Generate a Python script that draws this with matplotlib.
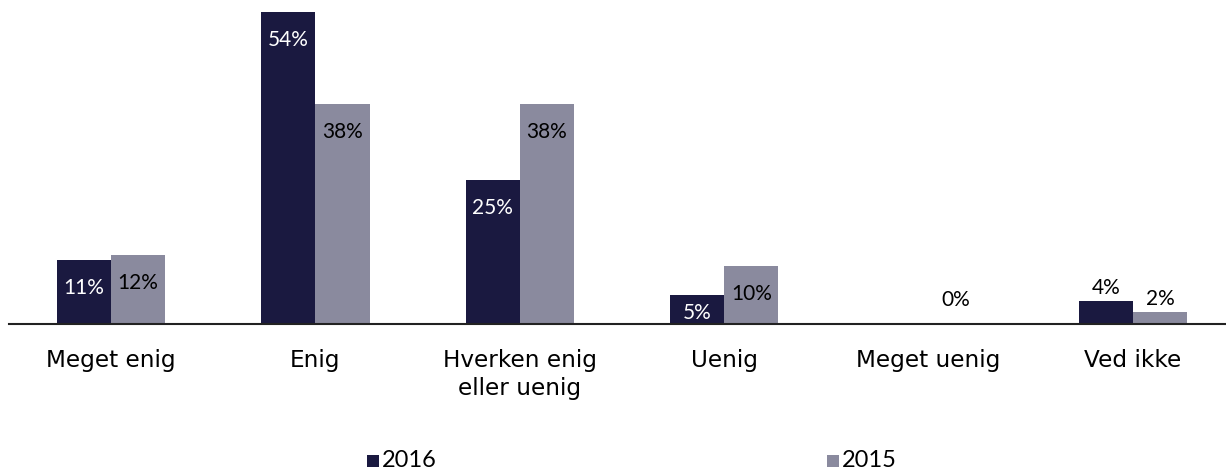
import numpy as np
import matplotlib.pyplot as plt
from matplotlib.patches import Rectangle

categories = ['Meget enig', 'Enig', 'Hverken enig\neller uenig', 'Uenig', 'Meget uenig', 'Ved ikke']
y2016 = [11, 54, 25, 5, None, 4]
y2015 = [12, 38, 38, 10, 0, 2]

c2016 = '#1a1940'
c2015 = '#8a8a9e'
lab_font = 'Lato'

fig = plt.figure(figsize=(12.26, 4.72), dpi=100)
ax = fig.add_axes([9 / 1226, 148 / 472, 1217 / 1226, 324 / 472])

x = np.arange(len(categories))
w = 0.265
px = 54 / 312  # data units per pixel

for xs, vals, col, tcol in [(x - w / 2, y2016, c2016, 'white'),
                            (x + w / 2, y2015, c2015, 'black')]:
    for xi, v in zip(xs, vals):
        if v is None:
            continue
        ax.bar(xi, v, width=w, color=col, linewidth=0)
        if v >= 5:
            yl = max(v - 28 * px, 11 * px)
            ax.text(xi, yl, f'{v}%', ha='center', va='center', color=tcol,
                    fontsize=15, family=lab_font)
        else:
            yl = max(v + 13 * px, 24 * px)
            ax.text(xi, yl, f'{v}%', ha='center', va='center', color='black',
                    fontsize=15, family=lab_font)

ax.set_xlim(-0.4995, 5.455)
ax.set_ylim(0, 324 * px)
for s in ['top', 'right', 'left']:
    ax.spines[s].set_visible(False)
ax.spines['bottom'].set_color('#222222')
ax.spines['bottom'].set_linewidth(1.5)
ax.set_yticks([])
ax.set_xticks(x)
ax.set_xticklabels(categories, fontsize=16.7, family='DejaVu Sans', linespacing=1.25)
ax.tick_params(axis='x', length=0, pad=18)

# legend (bottom, like the original)
for lx, col, name in [(367, c2016, '2016'), (827, c2015, '2015')]:
    fig.patches.append(Rectangle((lx / 1226, 5 / 472), 12 / 1226, 12 / 472,
                                 transform=fig.transFigure, color=col, lw=0))
    fig.text((lx + 15) / 1226, 1 / 472, name, color='black', fontsize=17,
             va='bottom', ha='left', family=lab_font)

fig.savefig('out.png', dpi=100)
